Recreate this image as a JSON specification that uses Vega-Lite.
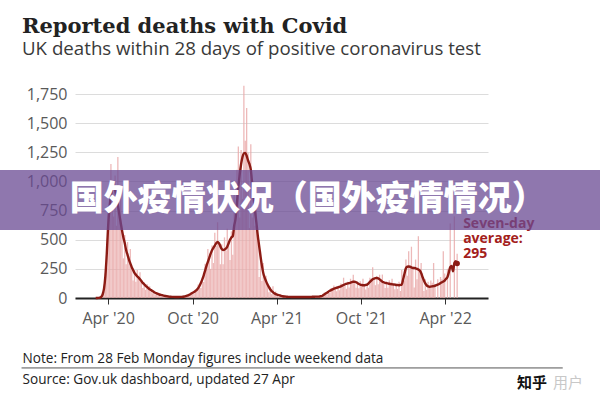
{
  "$schema": "https://vega.github.io/schema/vega-lite/v6.json",
  "width": 413,
  "height": 204,
  "autosize": {"type": "none"},
  "padding": {"left": 75, "top": 94, "right": 112, "bottom": 102},
  "background": "white",
  "config": {"view": {"stroke": null}, "font": "Open Sans"},
  "title": {
    "text": "Reported deaths with Covid",
    "subtitle": "UK deaths within 28 days of positive coronavirus test",
    "anchor": "start",
    "frame": "group",
    "dx": -53,
    "offset": 27,
    "font": "DejaVu Serif",
    "fontSize": 21,
    "fontWeight": "bold",
    "color": "#222222",
    "subtitleFont": "Open Sans",
    "subtitleFontSize": 18.7,
    "subtitleColor": "#3a3a3a",
    "subtitlePadding": 3
  },
  "datasets": {
    "deaths": [
      {"d":"2020-03-05","a":0,"n":0},{"d":"2020-03-08","a":0,"n":0},{"d":"2020-03-11","a":1,"n":2},{"d":"2020-03-14","a":3,"n":3},{"d":"2020-03-17","a":10,"n":14},{"d":"2020-03-20","a":30,"n":33},{"d":"2020-03-23","a":80,"n":54},{"d":"2020-03-26","a":190,"n":210},{"d":"2020-03-29","a":380,"n":260},
      {"d":"2020-04-01","a":620,"n":780},{"d":"2020-04-04","a":780,"n":740},{"d":"2020-04-07","a":880,"n":1150},{"d":"2020-04-10","a":940,"n":960},{"d":"2020-04-13","a":960,"n":700},{"d":"2020-04-16","a":930,"n":1050},{"d":"2020-04-19","a":870,"n":620},{"d":"2020-04-22","a":800,"n":1210},{"d":"2020-04-25","a":720,"n":700},{"d":"2020-04-28","a":650,"n":900},
      {"d":"2020-05-01","a":580,"n":600},{"d":"2020-05-04","a":520,"n":340},{"d":"2020-05-07","a":470,"n":540},{"d":"2020-05-10","a":410,"n":290},{"d":"2020-05-13","a":370,"n":480},{"d":"2020-05-16","a":330,"n":320},{"d":"2020-05-19","a":297,"n":420},{"d":"2020-05-22","a":265,"n":270},{"d":"2020-05-25","a":240,"n":150},{"d":"2020-05-28","a":215,"n":240},{"d":"2020-05-31","a":200,"n":140},
      {"d":"2020-06-03","a":185,"n":240},{"d":"2020-06-06","a":175,"n":165},{"d":"2020-06-09","a":160,"n":220},{"d":"2020-06-12","a":145,"n":150},{"d":"2020-06-15","a":130,"n":85},{"d":"2020-06-18","a":118,"n":130},{"d":"2020-06-21","a":105,"n":70},{"d":"2020-06-24","a":95,"n":120},{"d":"2020-06-27","a":85,"n":80},{"d":"2020-06-30","a":75,"n":100},
      {"d":"2020-07-03","a":68,"n":68},{"d":"2020-07-06","a":60,"n":40},{"d":"2020-07-09","a":52,"n":58},{"d":"2020-07-12","a":45,"n":30},{"d":"2020-07-15","a":40,"n":50},{"d":"2020-07-18","a":35,"n":33},{"d":"2020-07-21","a":30,"n":40},{"d":"2020-07-24","a":27,"n":27},{"d":"2020-07-27","a":24,"n":16},{"d":"2020-07-30","a":21,"n":23},
      {"d":"2020-08-02","a":18,"n":12},{"d":"2020-08-05","a":16,"n":20},{"d":"2020-08-08","a":14,"n":13},{"d":"2020-08-11","a":12,"n":16},{"d":"2020-08-14","a":11,"n":11},{"d":"2020-08-17","a":10,"n":6},{"d":"2020-08-20","a":10,"n":11},{"d":"2020-08-23","a":9,"n":6},{"d":"2020-08-26","a":9,"n":11},{"d":"2020-08-29","a":9,"n":9},
      {"d":"2020-09-01","a":9,"n":12},{"d":"2020-09-04","a":10,"n":10},{"d":"2020-09-07","a":10,"n":6},{"d":"2020-09-10","a":11,"n":12},{"d":"2020-09-13","a":13,"n":9},{"d":"2020-09-16","a":16,"n":20},{"d":"2020-09-19","a":20,"n":19},{"d":"2020-09-22","a":25,"n":34},{"d":"2020-09-25","a":30,"n":30},{"d":"2020-09-28","a":38,"n":25},
      {"d":"2020-10-01","a":45,"n":50},{"d":"2020-10-04","a":52,"n":36},{"d":"2020-10-07","a":60,"n":75},{"d":"2020-10-10","a":70,"n":66},{"d":"2020-10-13","a":85,"n":115},{"d":"2020-10-16","a":105,"n":105},{"d":"2020-10-19","a":130,"n":85},{"d":"2020-10-22","a":160,"n":176},{"d":"2020-10-25","a":195,"n":137},{"d":"2020-10-28","a":235,"n":294},{"d":"2020-10-31","a":275,"n":261},
      {"d":"2020-11-03","a":310,"n":420},{"d":"2020-11-06","a":345,"n":345},{"d":"2020-11-09","a":380,"n":250},{"d":"2020-11-12","a":410,"n":450},{"d":"2020-11-15","a":430,"n":300},{"d":"2020-11-18","a":450,"n":560},{"d":"2020-11-21","a":470,"n":446},{"d":"2020-11-24","a":480,"n":650},{"d":"2020-11-27","a":470,"n":470},{"d":"2020-11-30","a":445,"n":290},
      {"d":"2020-12-03","a":420,"n":462},{"d":"2020-12-06","a":412,"n":290},{"d":"2020-12-09","a":415,"n":520},{"d":"2020-12-12","a":425,"n":404},{"d":"2020-12-15","a":440,"n":594},{"d":"2020-12-18","a":470,"n":470},{"d":"2020-12-21","a":500,"n":325},{"d":"2020-12-24","a":520,"n":572},{"d":"2020-12-27","a":530,"n":371},{"d":"2020-12-30","a":620,"n":900},
      {"d":"2021-01-02","a":680,"n":646},{"d":"2021-01-05","a":820,"n":1100},{"d":"2021-01-08","a":950,"n":1300},{"d":"2021-01-11","a":1060,"n":690},{"d":"2021-01-14","a":1150,"n":1270},{"d":"2021-01-17","a":1210,"n":850},{"d":"2021-01-20","a":1240,"n":1820},{"d":"2021-01-23","a":1245,"n":1350},{"d":"2021-01-26","a":1220,"n":1630},{"d":"2021-01-29","a":1180,"n":1245},
      {"d":"2021-02-01","a":1150,"n":600},{"d":"2021-02-04","a":1100,"n":1320},{"d":"2021-02-07","a":980,"n":690},{"d":"2021-02-10","a":860,"n":1000},{"d":"2021-02-13","a":750,"n":620},{"d":"2021-02-16","a":650,"n":800},{"d":"2021-02-19","a":540,"n":530},{"d":"2021-02-22","a":450,"n":180},{"d":"2021-02-25","a":360,"n":400},{"d":"2021-02-28","a":280,"n":145},
      {"d":"2021-03-03","a":215,"n":300},{"d":"2021-03-06","a":175,"n":158},{"d":"2021-03-09","a":145,"n":190},{"d":"2021-03-12","a":118,"n":120},{"d":"2021-03-15","a":95,"n":50},{"d":"2021-03-18","a":75,"n":95},{"d":"2021-03-21","a":60,"n":33},{"d":"2021-03-24","a":50,"n":100},{"d":"2021-03-27","a":40,"n":45},{"d":"2021-03-30","a":33,"n":56},
      {"d":"2021-04-02","a":28,"n":30},{"d":"2021-04-05","a":25,"n":9},{"d":"2021-04-08","a":22,"n":30},{"d":"2021-04-11","a":18,"n":10},{"d":"2021-04-14","a":15,"n":26},{"d":"2021-04-17","a":13,"n":12},{"d":"2021-04-20","a":12,"n":22},{"d":"2021-04-23","a":11,"n":11},{"d":"2021-04-26","a":10,"n":4},{"d":"2021-04-29","a":10,"n":12},
      {"d":"2021-05-02","a":9,"n":5},{"d":"2021-05-05","a":9,"n":12},{"d":"2021-05-08","a":8,"n":8},{"d":"2021-05-11","a":8,"n":11},{"d":"2021-05-14","a":8,"n":8},{"d":"2021-05-17","a":8,"n":4},{"d":"2021-05-20","a":8,"n":9},{"d":"2021-05-23","a":8,"n":5},{"d":"2021-05-26","a":8,"n":10},{"d":"2021-05-29","a":8,"n":8},
      {"d":"2021-06-01","a":8,"n":10},{"d":"2021-06-04","a":8,"n":8},{"d":"2021-06-07","a":8,"n":4},{"d":"2021-06-10","a":9,"n":10},{"d":"2021-06-13","a":9,"n":6},{"d":"2021-06-16","a":10,"n":13},{"d":"2021-06-19","a":11,"n":10},{"d":"2021-06-22","a":11,"n":16},{"d":"2021-06-25","a":12,"n":12},{"d":"2021-06-28","a":12,"n":7},
      {"d":"2021-07-01","a":12,"n":14},{"d":"2021-07-04","a":14,"n":10},{"d":"2021-07-07","a":16,"n":20},{"d":"2021-07-10","a":22,"n":21},{"d":"2021-07-13","a":30,"n":45},{"d":"2021-07-16","a":38,"n":38},{"d":"2021-07-19","a":46,"n":30},{"d":"2021-07-22","a":54,"n":60},{"d":"2021-07-25","a":62,"n":43},{"d":"2021-07-28","a":68,"n":85},{"d":"2021-07-31","a":74,"n":70},
      {"d":"2021-08-03","a":80,"n":108},{"d":"2021-08-06","a":84,"n":84},{"d":"2021-08-09","a":88,"n":57},{"d":"2021-08-12","a":92,"n":101},{"d":"2021-08-15","a":96,"n":67},{"d":"2021-08-18","a":100,"n":125},{"d":"2021-08-21","a":106,"n":100},{"d":"2021-08-24","a":112,"n":174},{"d":"2021-08-27","a":118,"n":118},{"d":"2021-08-30","a":122,"n":79},
      {"d":"2021-09-02","a":126,"n":139},{"d":"2021-09-05","a":128,"n":90},{"d":"2021-09-08","a":132,"n":165},{"d":"2021-09-11","a":136,"n":129},{"d":"2021-09-14","a":140,"n":200},{"d":"2021-09-17","a":140,"n":140},{"d":"2021-09-20","a":135,"n":88},{"d":"2021-09-23","a":128,"n":141},{"d":"2021-09-26","a":120,"n":84},{"d":"2021-09-29","a":115,"n":144},
      {"d":"2021-10-02","a":112,"n":106},{"d":"2021-10-05","a":110,"n":165},{"d":"2021-10-08","a":110,"n":110},{"d":"2021-10-11","a":112,"n":73},{"d":"2021-10-14","a":115,"n":127},{"d":"2021-10-17","a":125,"n":88},{"d":"2021-10-20","a":138,"n":173},{"d":"2021-10-23","a":150,"n":143},{"d":"2021-10-26","a":160,"n":263},{"d":"2021-10-29","a":166,"n":166},
      {"d":"2021-11-01","a":170,"n":110},{"d":"2021-11-04","a":172,"n":189},{"d":"2021-11-07","a":168,"n":118},{"d":"2021-11-10","a":160,"n":200},{"d":"2021-11-13","a":150,"n":143},{"d":"2021-11-16","a":140,"n":201},{"d":"2021-11-19","a":135,"n":135},{"d":"2021-11-22","a":130,"n":85},{"d":"2021-11-25","a":128,"n":141},{"d":"2021-11-28","a":125,"n":88},
      {"d":"2021-12-01","a":122,"n":153},{"d":"2021-12-04","a":120,"n":114},{"d":"2021-12-07","a":118,"n":165},{"d":"2021-12-10","a":116,"n":116},{"d":"2021-12-13","a":115,"n":75},{"d":"2021-12-16","a":112,"n":123},{"d":"2021-12-19","a":112,"n":78},{"d":"2021-12-22","a":110,"n":140},{"d":"2021-12-25","a":112,"n":60},{"d":"2021-12-28","a":115,"n":240},{"d":"2021-12-31","a":160,"n":200},
      {"d":"2022-01-03","a":210,"n":150},{"d":"2022-01-06","a":255,"n":330},{"d":"2022-01-09","a":268,"n":190},{"d":"2022-01-12","a":270,"n":400},{"d":"2022-01-15","a":268,"n":260},{"d":"2022-01-18","a":262,"n":440},{"d":"2022-01-21","a":258,"n":270},{"d":"2022-01-24","a":258,"n":90},{"d":"2022-01-27","a":255,"n":330},{"d":"2022-01-30","a":250,"n":160},
      {"d":"2022-02-02","a":245,"n":530},{"d":"2022-02-05","a":235,"n":250},{"d":"2022-02-08","a":215,"n":300},{"d":"2022-02-11","a":180,"n":210},{"d":"2022-02-14","a":150,"n":60},{"d":"2022-02-17","a":125,"n":160},{"d":"2022-02-20","a":108,"n":70},{"d":"2022-02-23","a":100,"n":140},{"d":"2022-02-26","a":97,"n":100},
      {"d":"2022-03-01","a":98,"n":150},{"d":"2022-03-04","a":100,"n":130},{"d":"2022-03-07","a":102,"n":300},{"d":"2022-03-10","a":105,"n":120},{"d":"2022-03-13","a":110,"n":0},{"d":"2022-03-16","a":115,"n":160},{"d":"2022-03-19","a":120,"n":0},{"d":"2022-03-22","a":128,"n":180},{"d":"2022-03-25","a":135,"n":160},{"d":"2022-03-28","a":142,"n":400},{"d":"2022-03-31","a":150,"n":210},
      {"d":"2022-04-03","a":165,"n":0},{"d":"2022-04-06","a":180,"n":250},{"d":"2022-04-09","a":220,"n":0},{"d":"2022-04-12","a":265,"n":640},{"d":"2022-04-15","a":275,"n":0},{"d":"2022-04-18","a":230,"n":0},{"d":"2022-04-21","a":300,"n":700},{"d":"2022-04-24","a":315,"n":0},{"d":"2022-04-27","a":295,"n":380}
    ]
  },
  "resolve": {
    "scale": {"x": "independent", "y": "independent"},
    "axis": {"x": "independent", "y": "independent"}
  },
  "layer": [
    {
      "data": {"name": "deaths"},
      "encoding": {
        "x": {
          "field": "d",
          "type": "temporal",
          "scale": {
            "type": "utc",
            "domain": [
              {"year": 2020, "month": 1, "date": 31, "utc": true},
              {"year": 2022, "month": 6, "date": 22, "utc": true}
            ]
          },
          "axis": {
            "values": [
              {"year": 2020, "month": 4, "date": 1, "utc": true},
              {"year": 2020, "month": 10, "date": 1, "utc": true},
              {"year": 2021, "month": 4, "date": 1, "utc": true},
              {"year": 2021, "month": 10, "date": 1, "utc": true},
              {"year": 2022, "month": 4, "date": 1, "utc": true}
            ],
            "labelExpr": "utcFormat(datum.value, \"%b '%y\")",
            "grid": false,
            "domain": true,
            "domainColor": "#222222",
            "domainWidth": 2,
            "ticks": true,
            "tickColor": "#333333",
            "tickSize": 6,
            "tickWidth": 1,
            "labelFont": "Open Sans",
            "labelFontSize": 16,
            "labelColor": "#595959",
            "labelPadding": 6,
            "title": ["Note: From 28 Feb Monday figures include weekend data", "Source: Gov.uk dashboard, updated 27 Apr"],
            "titleX": -53,
            "titleY": 64,
            "titleAlign": "left",
            "titleAnchor": "start",
            "titleBaseline": "alphabetic",
            "titleFont": "Open Sans",
            "titleFontSize": 13.6,
            "titleFontWeight": "normal",
            "titleColor": "#222222",
            "titleLineHeight": 21
          }
        },
        "y": {
          "type": "quantitative",
          "scale": {"domain": [0, 1750], "nice": false},
          "axis": {
            "values": [0, 250, 500, 750, 1000, 1250, 1500, 1750],
            "labelExpr": "format(datum.value, ',d')",
            "domain": false,
            "ticks": false,
            "grid": true,
            "gridColor": "#dcdcdc",
            "gridWidth": 1,
            "labelFont": "Open Sans",
            "labelFontSize": 16,
            "labelColor": "#595959",
            "labelPadding": 8,
            "title": null
          }
        }
      },
      "layer": [
        {
          "mark": {"type": "bar", "width": 1.3, "color": "#e8a8a8", "opacity": 0.8, "clip": false},
          "encoding": {"y": {"field": "n", "type": "quantitative"}}
        },
        {
          "mark": {"type": "line", "color": "#8c1b14", "strokeWidth": 2.4, "interpolate": "monotone"},
          "encoding": {"y": {"field": "a", "type": "quantitative"}}
        },
        {
          "transform": [{"filter": "utcyear(datum.d) == 2022 && utcmonth(datum.d) == 3 && utcdate(datum.d) == 27"}],
          "mark": {"type": "point", "filled": true, "color": "#8c1b14", "size": 30, "opacity": 1},
          "encoding": {"y": {"field": "a", "type": "quantitative"}}
        },
        {
          "transform": [{"filter": "utcyear(datum.d) == 2022 && utcmonth(datum.d) == 3 && utcdate(datum.d) == 27"}],
          "mark": {"type": "text", "text": ["Seven-day", "average:", "295"], "align": "left", "baseline": "alphabetic", "dx": 6, "dy": -36, "font": "Open Sans", "fontSize": 14, "fontWeight": "bold", "lineHeight": 15, "color": "#a3201b"},
          "encoding": {"y": {"field": "a", "type": "quantitative"}}
        }
      ]
    },
    {
      "data": {"values": [{}]},
      "mark": {"type": "rule", "color": "#555555", "strokeWidth": 1},
      "encoding": {
        "x": {"datum": {"year": 2019, "month": 10, "date": 10, "utc": true}, "type": "temporal", "axis": null,
              "scale": {"type": "utc", "domain": [{"year": 2020, "month": 1, "date": 31, "utc": true}, {"year": 2022, "month": 6, "date": 22, "utc": true}]}},
        "x2": {"datum": {"year": 2022, "month": 11, "date": 27, "utc": true}},
        "y": {"datum": -600, "type": "quantitative", "axis": null, "scale": {"domain": [0, 1750], "nice": false}}
      }
    },
    {
      "data": {"values": [{}]},
      "mark": {"type": "text", "text": "知乎", "font": "Noto Sans CJK SC", "fontWeight": "bold", "fontSize": 15, "color": "#111111", "align": "center", "baseline": "middle"},
      "encoding": {
        "x": {"datum": {"year": 2022, "month": 9, "date": 23, "utc": true}, "type": "temporal", "axis": null,
              "scale": {"type": "utc", "domain": [{"year": 2020, "month": 1, "date": 31, "utc": true}, {"year": 2022, "month": 6, "date": 22, "utc": true}]}},
        "y": {"datum": -729, "type": "quantitative", "axis": null, "scale": {"domain": [0, 1750], "nice": false}}
      }
    },
    {
      "data": {"values": [{}]},
      "mark": {"type": "text", "text": "用户", "font": "Noto Sans CJK SC", "fontSize": 15, "color": "#c8c8c8", "align": "center", "baseline": "middle"},
      "encoding": {
        "x": {"datum": {"year": 2022, "month": 12, "date": 8, "utc": true}, "type": "temporal", "axis": null,
              "scale": {"type": "utc", "domain": [{"year": 2020, "month": 1, "date": 31, "utc": true}, {"year": 2022, "month": 6, "date": 22, "utc": true}]}},
        "y": {"datum": -729, "type": "quantitative", "axis": null, "scale": {"domain": [0, 1750], "nice": false}}
      }
    },
    {
      "data": {"values": [{}]},
      "mark": {"type": "rect", "fill": "#6a4a93", "fillOpacity": 0.75},
      "encoding": {
        "x": {"datum": {"year": 2019, "month": 6, "date": 1, "utc": true}, "type": "temporal", "axis": null,
              "scale": {"type": "utc", "domain": [{"year": 2020, "month": 1, "date": 31, "utc": true}, {"year": 2022, "month": 6, "date": 22, "utc": true}]}},
        "x2": {"datum": {"year": 2023, "month": 5, "date": 1, "utc": true}},
        "y": {"datum": 1099, "type": "quantitative", "axis": null, "scale": {"domain": [0, 1750], "nice": false}},
        "y2": {"datum": 583}
      }
    },
    {
      "data": {"values": [{}]},
      "mark": {"type": "text", "text": "国外疫情状况（国外疫情情况）", "font": "Noto Sans CJK SC", "fontWeight": 900, "fontSize": 34, "color": "#ffffff", "align": "center", "baseline": "middle"},
      "encoding": {
        "x": {"datum": {"year": 2021, "month": 6, "date": 6, "utc": true}, "type": "temporal", "axis": null,
              "scale": {"type": "utc", "domain": [{"year": 2020, "month": 1, "date": 31, "utc": true}, {"year": 2022, "month": 6, "date": 22, "utc": true}]}},
        "y": {"datum": 840, "type": "quantitative", "axis": null, "scale": {"domain": [0, 1750], "nice": false}}
      }
    }
  ]
}
